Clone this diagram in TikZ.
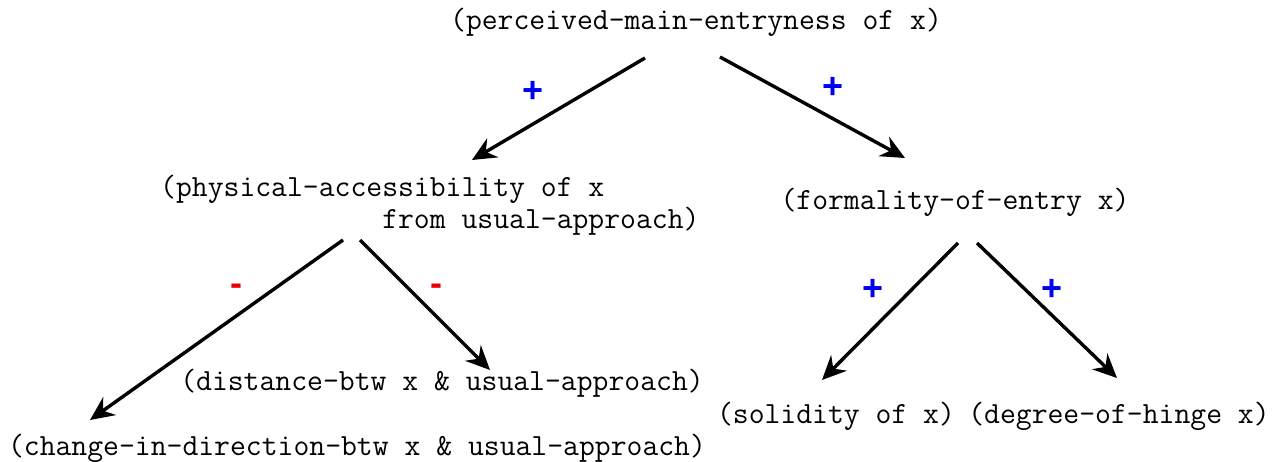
\documentclass[tikz,border=0pt]{standalone}
\usepackage{fontspec}
\setsansfont{Liberation Sans}
\usepackage{tikz}
\usetikzlibrary{arrows.meta, positioning, calc}
\definecolor{SignBlue}{RGB}{0, 0, 240}
\definecolor{SignRed}{RGB}{235, 0, 0}

\begin{document}
\begin{tikzpicture}[x=1pt, y=-1pt, >={Stealth[length=24pt, width=22pt, inset=8pt]},
    term/.style={font=\fontsize{30.8}{32}\selectfont\ttfamily, inner sep=0pt, anchor=base},
    link/.style={->, line width=3.4pt},
    plus/.style={font=\fontsize{36}{36}\selectfont\sffamily\bfseries, color=SignBlue},
    minus/.style={font=\fontsize{36}{36}\selectfont\sffamily\bfseries, color=SignRed}]
    \useasboundingbox (0,0) rectangle (1277,462);

    % Root term
    \node[term] (entry) at (696,30) {(perceived-main-entryness of x)};

    % Second level
    \node[term, anchor=base west, align=left] (access) at (160,229)
        {(physical-accessibility of x\\\hphantom{xxxxxxxxxxxxxx}from usual-approach)};
    \node[term] (formal) at (955,210) {(formality-of-entry x)};

    % Leaves
    \node[term] (dist) at (442,390) {(distance-btw x \& usual-approach)};
    \node[term] (change) at (357,455) {(change-in-direction-btw x \& usual-approach)};
    \node[term] (solid) at (836,423) {(solidity of x)};
    \node[term] (hinge) at (1119,423) {(degree-of-hinge x)};

    % Influence links
    \draw[link] ([shift={(-51,28)}]entry.base) -- ([shift={(312,-69)}]access.base west);
    \draw[link] ([shift={(24,27)}]entry.base) -- ([shift={(-50,-52)}]formal.base);
    \draw[link] ([shift={(183,11)}]access.base west) -- ([shift={(-267,-35)}]change.base);
    \draw[link] ([shift={(200,11)}]access.base west) -- ([shift={(48,-20)}]dist.base);
    \draw[link] ([shift={(3,33)}]formal.base) -- ([shift={(-14,-43)}]solid.base);
    \draw[link] ([shift={(22,33)}]formal.base) -- ([shift={(-2,-45)}]hinge.base);

    % Signs
    \node[plus] (s1) at (533,92) {+};
    \node[plus] (s2) at (833,88) {+};
    \node[minus] (s3) at (236,290) {-};
    \node[minus] (s4) at (436,290) {-};
    \node[plus] (s5) at (873,290) {+};
    \node[plus] (s6) at (1052,290) {+};
\end{tikzpicture}
\end{document}
